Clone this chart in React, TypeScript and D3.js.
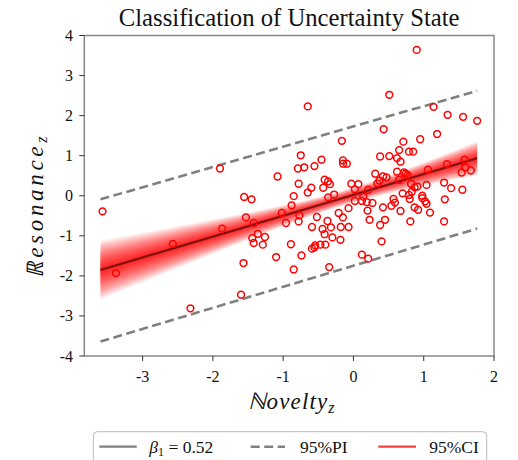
import React from "react";
import * as d3 from "d3";

// Observed points (standardized)
const noveltyZ: number[] = [
  -3.57, -1.90, -1.555, -1.45, -1.53, -1.42, -1.87, -1.36, -1.44, -1.42, -1.29, -2.57, -1.565, -3.38, -1.60, -2.32,
  -0.65, -0.165, -0.75, -0.455, -0.15, -0.147, -0.094, -0.79, -0.70, -0.555, -1.08, 0.31, -0.78, -0.41, -0.36, -0.335,
  -0.60, -0.65, -0.43, -0.03, 0.07, 0.02, -0.85, -0.275, -0.36, 0.14,
  0.02, 0.12, 0.19, 0.27, -0.88, -1.02, -0.77, -0.21, -0.07, 0.20, -0.52, -0.15, -0.37, -0.96, -0.78, -0.59, -0.44,
  -0.32, -0.18, -0.07, 0.23, -0.41, -0.30, -0.185, -1.26, -0.89, -0.545, -0.47, -0.40, -0.59, -0.555, -1.10, -0.74,
  0.12, 0.21, -0.85, -0.345,
  0.90, 0.51, 1.14, 1.34, 1.56, 1.76, 0.43, 1.19,
  0.95, 0.71, 0.65, 0.79, 0.85, 0.38, 0.51, 0.62, 0.67, 1.33, 1.58, 1.59, 1.54, 1.67, 1.06, 0.62, 0.72, 0.74, 0.77,
  0.42, 0.47, 0.37, 0.34, 0.21, 0.65, 0.82, 1.04, 1.29, 1.39, 1.55, 0.87, 0.91, 0.83, 0.70, 0.79, 0.98, 0.98, 1.02,
  1.30, 0.80, 0.57, 0.59, 0.54, 0.42, 0.67, 0.87, 0.92, 1.04, 1.09,
  0.38, 0.45, 0.81, 1.29, 0.40,
];
const resonanceZ: number[] = [
  -0.39, 0.68, -0.03, -0.09, -0.54, -0.68, -0.82, -0.95, -1.06, -1.18, -1.22, -1.20, -1.68, -1.93, -2.47, -2.81,
  2.23, 1.37, 1.01, 0.90, 0.88, 0.80, 0.80, 0.68, 0.71, 0.74, 0.48, 0.55, 0.30, 0.40, 0.36, 0.29,
  0.20, 0.08, 0.20, 0.30, 0.29, 0.16, -0.01, 0.03, -0.04, -0.02,
  -0.13, -0.13, -0.16, -0.18, -0.24, -0.43, -0.49, -0.43, -0.31, -0.37, -0.53, -0.54, -0.63, -0.68, -0.64, -0.78, -0.83,
  -0.79, -0.78, -0.78, -0.60, -0.96, -1.04, -1.10, -1.03, -1.21, -1.24, -1.22, -1.22, -1.32, -1.29, -1.53, -1.49,
  -1.47, -1.57, -1.84, -1.78,
  3.64, 2.52, 2.22, 2.02, 1.97, 1.87, 1.66, 1.54,
  1.41, 1.35, 1.14, 1.10, 1.10, 0.98, 0.99, 0.94, 0.85, 0.79, 0.90, 0.71, 0.58, 0.63, 0.65, 0.60, 0.58, 0.55, 0.52,
  0.48, 0.46, 0.38, 0.31, 0.15, 0.40, 0.30, 0.27, 0.33, 0.19, 0.15, 0.21, 0.23, 0.10, 0.06, 0.02, 0.00, -0.06, -0.14,
  -0.09, -0.08, -0.08, -0.17, -0.25, -0.29, -0.38, -0.29, -0.35, -0.20, -0.42,
  -0.73, -0.60, -0.64, -0.64, -1.14,
];

// Fit and intervals
const fitXRange: number[] = [-3.6, 1.76];
const beta0 = 0.02;
const beta1 = 0.52;
const ciCenterX = -0.1;
const ciSeIntercept = 0.07;
const ciSeSlope = 0.075;
const piUpperY: number[] = [-0.09, 2.62];
const piLowerY: number[] = [-3.64, -0.82];

const xTicks: number[] = [-3, -2, -1, 0, 1, 2];
const yTicks: number[] = [-4, -3, -2, -1, 0, 1, 2, 3, 4];

const title = "Classification of Uncertainty State";
const legendLabels: string[] = ["0.52", "95%PI", "95%CI"];

const W = 518;
const H = 460;
const L = 84.3;
const R = 494;
const T = 35.5;
const B = 356;

export default function App() {
  const x = d3.scaleLinear().domain([-3.83, 2.0]).range([L, R]);
  const y = d3.scaleLinear().domain([-4, 4]).range([B, T]);
  const serif = "'Liberation Serif', 'Times New Roman', serif";

  const xs = d3.range(0, 61).map((i) => fitXRange[0] + ((fitXRange[1] - fitXRange[0]) * i) / 60);
  const mean = (v: number) => beta0 + beta1 * v;
  const se = (v: number) =>
    Math.sqrt(ciSeIntercept * ciSeIntercept + ciSeSlope * ciSeSlope * (v - ciCenterX) * (v - ciCenterX));

  const N = 30;
  const levels = d3.range(N).map((k) => 2.7 * Math.pow((k + 1) / N, 1.6));
  const band = (zz: number) =>
    d3
      .area<number>()
      .x((v) => x(v))
      .y0((v) => y(mean(v) - zz * se(v)))
      .y1((v) => y(mean(v) + zz * se(v)))(xs) as string;

  const fitLine = d3
    .line<number>()
    .x((v) => x(v))
    .y((v) => y(mean(v)))(fitXRange) as string;
  const piLine = (vals: number[]) =>
    d3
      .line<number>()
      .x((_, i) => x(fitXRange[i]))
      .y((v) => y(v))(vals) as string;

  const pts = noveltyZ.map((v, i) => [v, resonanceZ[i]]);

  return (
    <svg
      width={W}
      height={H}
      style={{ position: "absolute", left: 0, top: 0, background: "#fff", fontFamily: serif }}
    >
      <defs>
        <clipPath id="plotclip">
          <rect x={L} y={T} width={R - L} height={B - T} />
        </clipPath>
      </defs>
      <text x={(L + R) / 2} y={26} textAnchor="middle" fontSize={24.7} fill="#111">
        {title}
      </text>

      <g clipPath="url(#plotclip)">
        {levels.map((zz, i) => (
          <path key={i} d={band(zz)} fill="#ff0000" fillOpacity={0.065} stroke="none" />
        ))}
        <path d={piLine(piUpperY)} fill="none" stroke="#808080" strokeWidth={2.6} strokeDasharray="9,4.5" />
        <path d={piLine(piLowerY)} fill="none" stroke="#808080" strokeWidth={2.6} strokeDasharray="9,4.5" />
        <path d={fitLine} fill="none" stroke="#000" strokeOpacity={0.5} strokeWidth={2.2} />
        {pts.map((p, i) => (
          <circle key={i} cx={x(p[0])} cy={y(p[1])} r={3.4} fill="none" stroke="#ff0000" strokeWidth={1.5} />
        ))}
      </g>

      {/* spines */}
      <rect x={L} y={T} width={R - L} height={B - T} fill="none" stroke="#888" strokeWidth={1.5} />

      {/* x ticks */}
      {xTicks.map((t) => (
        <g key={"x" + t}>
          <line x1={x(t)} x2={x(t)} y1={B} y2={B + 5} stroke="#333" strokeWidth={1} />
          <text x={x(t)} y={381.5} textAnchor="middle" fontSize={16} fill="#111">
            {t < 0 ? "-" + Math.abs(t) : String(t)}
          </text>
        </g>
      ))}
      {/* y ticks */}
      {yTicks.map((t) => (
        <g key={"y" + t}>
          <line x1={L - 5} x2={L} y1={y(t)} y2={y(t)} stroke="#333" strokeWidth={1} />
          <text x={73} y={y(t) + 5.5} textAnchor="end" fontSize={16} fill="#111">
            {t < 0 ? "-" + Math.abs(t) : String(t)}
          </text>
        </g>
      ))}

      {/* axis labels */}
      <text x={291} y={409} textAnchor="middle" fontSize={23} fontStyle="italic" fill="#111" textLength={87} lengthAdjust="spacing">
        ℕovelty<tspan fontSize={16} dy={4}>z</tspan>
      </text>
      <text
        transform={`translate(43,207) rotate(-90)`}
        textAnchor="middle"
        fontSize={23}
        fontStyle="italic"
        fill="#111"
        textLength={141}
        lengthAdjust="spacing"
      >
        ℝesonance<tspan fontSize={16} dy={4}>z</tspan>
      </text>

      {/* legend */}
      <rect x={93.3} y={431.7} width={393.4} height={40} rx={4} fill="#fff" stroke="#bbb" strokeWidth={1} />
      <line x1={99.3} x2={136.7} y1={446.7} y2={446.7} stroke="#808080" strokeWidth={2.2} />
      <text x={149.3} y={453.3} fontSize={17.5} fill="#111">
        <tspan fontStyle="italic">β</tspan>
        <tspan fontSize={12} dy={3}>1</tspan>
        <tspan dy={-3}> = {legendLabels[0]}</tspan>
      </text>
      <line x1={250.7} x2={285} y1={446.7} y2={446.7} stroke="#808080" strokeWidth={2.6} strokeDasharray="9,4.5" />
      <text x={300} y={453.3} fontSize={17.5} fill="#111">
        {legendLabels[1]}
      </text>
      <line x1={378.3} x2={416} y1={446.7} y2={446.7} stroke="#ff0000" strokeOpacity={0.75} strokeWidth={2.2} />
      <text x={429.3} y={453.3} fontSize={17.5} fill="#111">
        {legendLabels[2]}
      </text>
    </svg>
  );
}
